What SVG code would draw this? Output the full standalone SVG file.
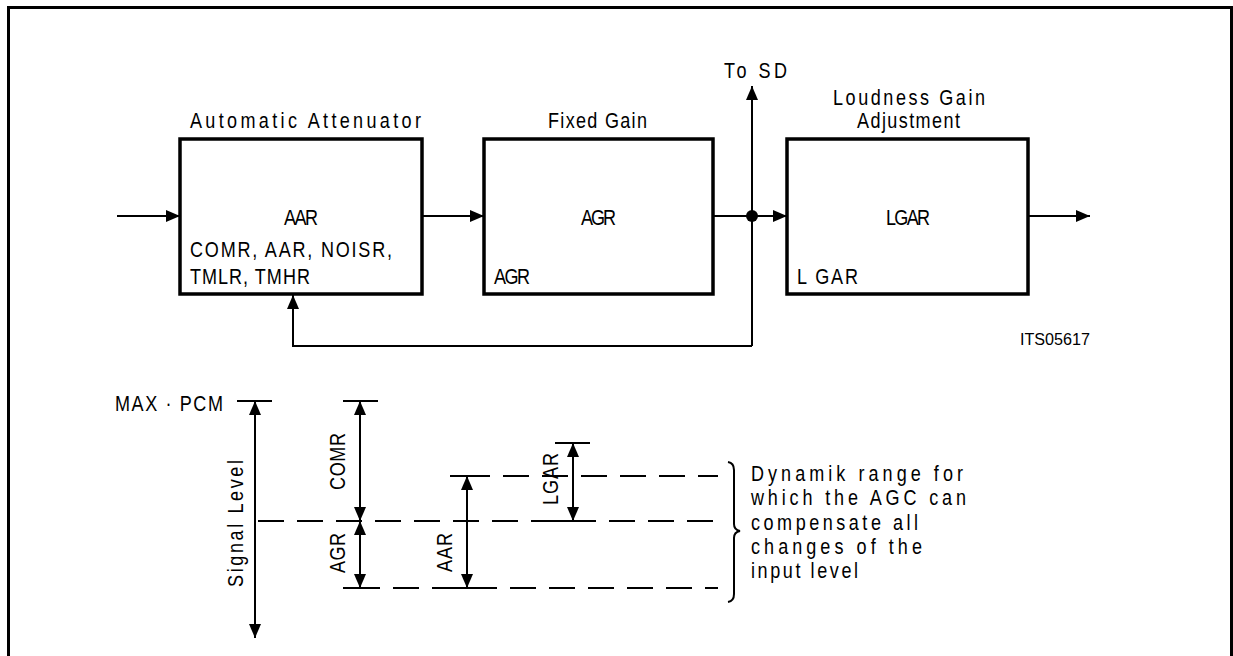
<svg xmlns="http://www.w3.org/2000/svg" width="1233" height="656" viewBox="0 0 1233 656">
<defs>
<marker id="ah" viewBox="0 0 14 12" refX="14" refY="6" markerWidth="14" markerHeight="12" markerUnits="userSpaceOnUse" orient="auto-start-reverse">
<path d="M0,0 L14,6 L0,12 Z" fill="#000"/>
</marker>
<style>
.t{font-family:"Liberation Sans",Arial,sans-serif;font-size:22px;fill:#000}
.s{font-family:"Liberation Sans",Arial,sans-serif;font-size:16px;fill:#000}
.box{fill:#fff;stroke:#000;stroke-width:3.5}
.ln{fill:none;stroke:#000;stroke-width:2}
.ar{fill:none;stroke:#000;stroke-width:2;marker-end:url(#ah)}
.dar{fill:none;stroke:#000;stroke-width:2;marker-start:url(#ah);marker-end:url(#ah)}
.dash{fill:none;stroke:#000;stroke-width:2;stroke-dasharray:26 13}
</style>
</defs>
<rect width="1233" height="656" fill="#fff"/>
<path d="M8.5,660 V7.5 H1231.5 V660" fill="none" stroke="#000" stroke-width="3"/>

<g id="connectors">
<line class="ar" x1="117" y1="216" x2="180" y2="216"/>
<line class="ar" x1="422" y1="216" x2="484" y2="216"/>
<line class="ar" x1="713" y1="216" x2="787" y2="216"/>
<line class="ar" x1="1028" y1="216" x2="1090" y2="216"/>
<line class="ar" x1="752" y1="346" x2="752" y2="86"/>
<polyline class="ar" points="752,346 293,346 293,295"/>
<circle cx="752" cy="216" r="6" fill="#000"/>
</g>

<g id="box-aa">
<rect class="box" x="180" y="139" width="242" height="155"/>
<text class="t" transform="translate(190,128) scale(0.82,1)" textLength="281.7" lengthAdjust="spacing">Automatic Attenuator</text>
<text class="t" transform="translate(284,225) scale(0.82,1)" textLength="41.5" lengthAdjust="spacing">AAR</text>
<text class="t" transform="translate(190,257) scale(0.82,1)" textLength="246.3" lengthAdjust="spacing">COMR, AAR, NOISR,</text>
<text class="t" transform="translate(190,284) scale(0.82,1)" textLength="146.3" lengthAdjust="spacing">TMLR, TMHR</text>
</g>

<g id="box-fg">
<rect class="box" x="484" y="139" width="229" height="155"/>
<text class="t" transform="translate(548,128) scale(0.82,1)" textLength="120.7" lengthAdjust="spacing">Fixed Gain</text>
<text class="t" transform="translate(581,225) scale(0.82,1)" textLength="42.7" lengthAdjust="spacing">AGR</text>
<text class="t" transform="translate(494,284) scale(0.82,1)" textLength="43.9" lengthAdjust="spacing">AGR</text>
</g>

<g id="box-lg">
<rect class="box" x="787" y="139" width="241" height="155"/>
<text class="t" transform="translate(833,105) scale(0.82,1)" textLength="185.4" lengthAdjust="spacing">Loudness Gain</text>
<text class="t" transform="translate(857,128) scale(0.82,1)" textLength="125.6" lengthAdjust="spacing">Adjustment</text>
<text class="t" transform="translate(886,225) scale(0.82,1)" textLength="53.7" lengthAdjust="spacing">LGAR</text>
<text class="t" transform="translate(797,284) scale(0.82,1)" textLength="74.4" lengthAdjust="spacing">L GAR</text>
</g>

<g id="to-sd">
<text class="t" transform="translate(724,78) scale(0.82,1)" textLength="76.8" lengthAdjust="spacing">To SD</text>
</g>

<g id="id-label">
<text class="s" x="1020" y="345" textLength="70" lengthAdjust="spacingAndGlyphs">ITS05617</text>
</g>

<g id="level-diagram">
<text class="t" transform="translate(115,411) scale(0.82,1)" textLength="131.7" lengthAdjust="spacing">MAX · PCM</text>
<line class="ln" x1="237" y1="401" x2="272" y2="401"/>
<line class="dar" x1="255" y1="401" x2="255" y2="638"/>
<text class="t" transform="translate(243,587) rotate(-90) scale(0.82,1)" textLength="154.9" lengthAdjust="spacing">Signal Level</text>

<line class="ln" x1="343" y1="401" x2="378" y2="401"/>
<line class="dar" x1="360" y1="401" x2="360" y2="521"/>
<text class="t" transform="translate(345,490) rotate(-90) scale(0.82,1)" textLength="69.5" lengthAdjust="spacing">COMR</text>

<line class="dash" x1="258" y1="521" x2="718" y2="521"/>
<line class="dar" x1="360" y1="521" x2="360" y2="588"/>
<text class="t" transform="translate(345,573) rotate(-90) scale(0.82,1)" textLength="48.8" lengthAdjust="spacing">AGR</text>

<line class="ln" x1="343" y1="588" x2="380" y2="588"/>
<line class="dash" x1="393" y1="588" x2="718" y2="588"/>
<line class="ln" x1="450" y1="588" x2="490" y2="588"/>

<line class="ln" x1="450" y1="476" x2="490" y2="476"/>
<line class="dash" x1="503" y1="476" x2="718" y2="476"/>
<line class="dar" x1="467" y1="476" x2="467" y2="588"/>
<text class="t" transform="translate(452,572) rotate(-90) scale(0.82,1)" textLength="47.6" lengthAdjust="spacing">AAR</text>

<line class="ln" x1="555" y1="443" x2="590" y2="443"/>
<line class="ln" x1="555" y1="521" x2="590" y2="521"/>
<line class="dar" x1="573" y1="443" x2="573" y2="521"/>
<text class="t" transform="translate(558,505) rotate(-90) scale(0.82,1)" textLength="63.4" lengthAdjust="spacing">LGAR</text>

<path class="ln" stroke-width="1.5" d="M728,462 Q734,463 734,470 V524 Q734,530 740,531 Q734,532 734,538 V594 Q734,601 728,602"/>

<text class="t" transform="translate(751,481) scale(0.82,1)" textLength="258.5" lengthAdjust="spacing">Dynamik range for</text>
<text class="t" transform="translate(751,505) scale(0.82,1)" textLength="262.2" lengthAdjust="spacing">which the AGC can</text>
<text class="t" transform="translate(751,530) scale(0.82,1)" textLength="203.7" lengthAdjust="spacing">compensate all</text>
<text class="t" transform="translate(751,554) scale(0.82,1)" textLength="208.5" lengthAdjust="spacing">changes of the</text>
<text class="t" transform="translate(751,578) scale(0.82,1)" textLength="130.5" lengthAdjust="spacing">input level</text>
</g>
</svg>
